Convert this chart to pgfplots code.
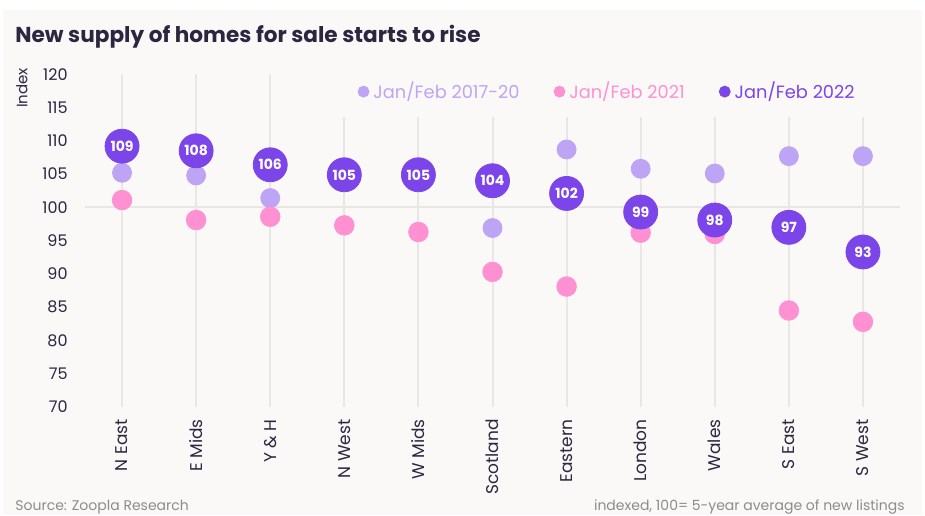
\documentclass[border=0pt]{standalone}
\usepackage{fontspec}
\setmainfont{Poppins}
\usepackage{pgfplots}
\usepackage{pgfplotstable}
\pgfplotsset{compat=1.18}

\definecolor{bgc}{HTML}{FAF9F7}
\definecolor{gridc}{HTML}{E9E7E5}
\definecolor{lightp}{HTML}{BDA4F4}
\definecolor{pinkc}{HTML}{FF90D2}
\definecolor{darkp}{HTML}{7B45E9}
\definecolor{textc}{HTML}{2C2640}
\definecolor{srcc}{HTML}{8C8C8C}

% index values, Jan/Feb of each period
\pgfplotstableread{
x light pink dark lab
0 105.2 101.1 109.2 109
1 104.8 98.1 108.5 108
2 101.4 98.6 106.4 106
3 105.0 97.3 104.9 105
4 104.9 96.3 104.9 105
5 96.9 90.3 104.0 104
6 108.7 88.1 102.1 102
7 105.8 96.2 99.3 99
8 105.1 96.0 98.1 98
9 107.7 84.5 97.0 97
10 107.7 82.8 93.3 93
}\regions

\begin{document}
\begin{tikzpicture}
\useasboundingbox (0,0) rectangle (462.5pt,257.5pt);
\fill[white] (0,0) rectangle (462.5pt,257.5pt);
\fill[bgc] (1.5pt,0) rectangle (461pt,252.5pt);

\node[anchor=base west, inner sep=0pt, text=textc, font=\bfseries\fontsize{10.8}{13}\selectfont]
  at (7.5pt,236pt) {New supply of homes for sale starts to rise};
\node[rotate=90, inner sep=0pt, text=textc, font=\fontsize{7.5}{9}\selectfont]
  at (11pt,213.5pt) {Index};
\node[anchor=base west, inner sep=0pt, text=srcc, font=\fontsize{7}{8}\selectfont]
  at (7.5pt,2.5pt) {Source: Zoopla Research};
\node[anchor=base east, inner sep=0pt, text=srcc, font=\fontsize{7}{8}\selectfont]
  at (452.5pt,2.5pt) {indexed, 100= 5-year average of new listings};

\begin{axis}[
    at={(42.5pt,54pt)}, anchor=south west,
    scale only axis,
    width=407.5pt, height=166.35pt,
    xmin=-0.5, xmax=10.5,
    ymin=70, ymax=120,
    ytick={70,75,...,120},
    xtick={0,...,10},
    xticklabels={N East, E Mids, Y \& H, N West, W Mids, Scotland, Eastern, London, Wales, S East, S West},
    axis line style={draw=none},
    major tick length=0pt,
    clip=false,
    unbounded coords=jump,
    /pgf/number format/assume math mode=true,
    yticklabel style={anchor=east, inner sep=0pt, xshift=-8.5pt, text=textc, font=\fontsize{8}{9}\selectfont},
    xticklabel style={yshift=-6pt, rotate=90, anchor=east, inner sep=0pt, text=textc, font=\fontsize{8.5}{10}\selectfont},
    legend style={at={(0.334,0.948)}, anchor=west, draw=none, fill=none, inner sep=0pt,
        font=\fontsize{8.9}{10}\selectfont,
        /tikz/every even column/.append style={column sep=15pt}},
    legend image code/.code={\fill[#1] (2.75pt,0pt) circle (2.75pt);},
    legend columns=3,
]
% guide lines
\addplot[gridc, line width=1pt, forget plot] coordinates {(-0.5,100) (10.5,100)};
\addplot[gridc, line width=1pt, forget plot] coordinates {
  (0,70) (0,120) (0,nan)
  (1,70) (1,120) (1,nan)
  (2,70) (2,120) (2,nan)
  (3,70) (3,113.6) (3,nan)
  (4,70) (4,113.6) (4,nan)
  (5,70) (5,113.6) (5,nan)
  (6,70) (6,113.6) (6,nan)
  (7,70) (7,113.6) (7,nan)
  (8,70) (8,113.6) (8,nan)
  (9,70) (9,113.6) (9,nan)
  (10,70) (10,113.6)
};

\addplot[only marks, mark=*, mark size=4.75pt, lightp, mark options={draw=none, fill=lightp}, forget plot]
  table[x=x, y=light] {\regions};
\addplot[only marks, mark=*, mark size=4.9pt, pinkc, mark options={draw=none, fill=pinkc}, forget plot]
  table[x=x, y=pink] {\regions};
\addplot[only marks, mark=*, mark size=8.5pt, darkp, mark options={draw=none, fill=darkp}, forget plot,
    point meta=explicit symbolic, nodes near coords,
    nodes near coords style={anchor=center, text=white, inner sep=0pt, font=\bfseries\fontsize{7}{8}\selectfont}]
  table[x=x, y=dark, meta=lab] {\regions};

\addlegendimage{lightp}
\addlegendentry{\textcolor{lightp}{Jan/Feb 2017-20}}
\addlegendimage{pinkc}
\addlegendentry{\textcolor{pinkc}{Jan/Feb 2021}}
\addlegendimage{darkp}
\addlegendentry{\textcolor{darkp}{Jan/Feb 2022}}
\end{axis}
\end{tikzpicture}
\end{document}
